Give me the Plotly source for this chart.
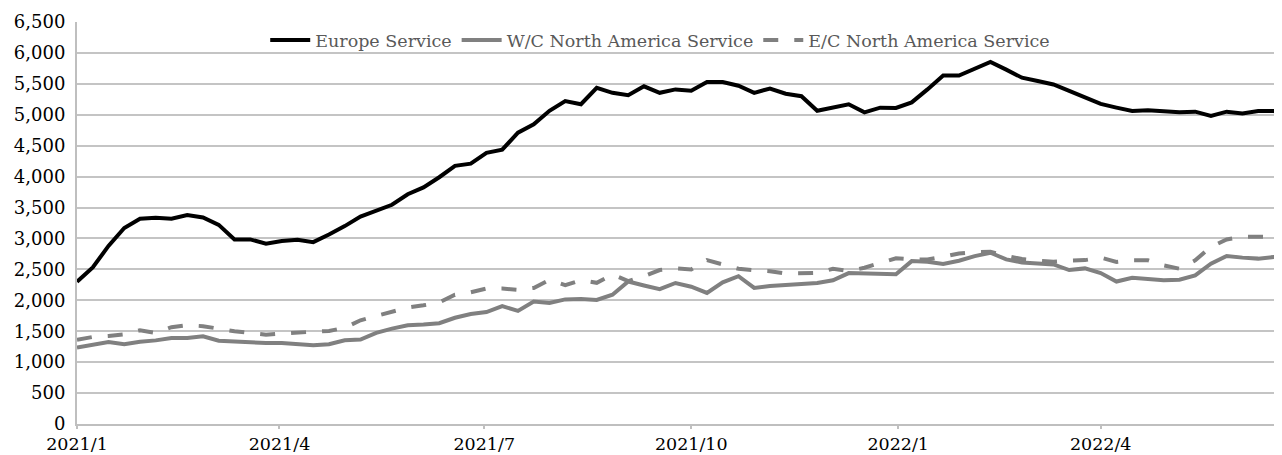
import pandas as pd
import plotly.graph_objects as go

start_date = "2021-01-01"

europe = [2300, 2530, 2880, 3170, 3320, 3335, 3320, 3380, 3340, 3220,
          2985, 2985, 2915, 2960, 2980, 2940, 3065, 3200, 3355, 3450,
          3545, 3715, 3825, 3990, 4175, 4210, 4385, 4435, 4710, 4845,
          5065, 5220, 5170, 5435, 5355, 5315, 5460, 5355, 5410, 5390,
          5530, 5530, 5470, 5355, 5425, 5340, 5300, 5065, 5115, 5170,
          5040, 5115, 5110, 5200, 5410, 5635, 5635, 5740, 5855, 5730,
          5600, 5545, 5490, 5385, 5280, 5175, 5115, 5060, 5075, 5065,
          5040, 5050, 4980, 5050, 5020, 5060, 5060, 4990]

wc_na = [1236, 1280, 1324, 1291, 1330, 1352, 1390, 1390, 1418, 1346,
         1335, 1308, 1308, 1310, 1290, 1274, 1290, 1355, 1366, 1473,
         1543, 1597, 1610, 1630, 1718, 1778, 1810, 1905, 1828, 1980,
         1957, 2015, 2020, 2005, 2090, 2305, 2240, 2180, 2280, 2220,
         2120, 2290, 2390, 2200, 2230, 2240, 2265, 2280, 2325, 2440,
         2430, 2419, 2420, 2634, 2624, 2586, 2640, 2715, 2769, 2661,
         2613, 2597, 2581, 2489, 2516, 2440, 2304, 2364, 2337, 2326,
         2332, 2402, 2592, 2717, 2690, 2674, 2701, 2663]

ec_na = [1363, 1407, 1423, 1450, 1516, 1473, 1566, 1599, 1582, 1538,
         1500, 1473, 1445, 1465, 1473, 1489, 1505, 1554, 1677, 1747,
         1822, 1882, 1919, 1965, 2090, 2130, 2190, 2190, 2170, 2200,
         2330, 2245, 2326, 2283, 2418, 2310, 2391, 2489, 2516, 2500,
         2650, 2580, 2510, 2486, 2470, 2432, 2432, 2443, 2510, 2473,
         2527, 2610, 2680, 2661, 2661, 2704, 2758, 2780, 2785, 2720,
         2667, 2640, 2624, 2640, 2650, 2690, 2620, 2647, 2647, 2565,
         2511, 2647, 2864, 2984, 3027, 3027, 3027, 2946]

series_names = ["Europe Service", "W/C North America Service", "E/C North America Service"]
tick_dates = ["2021-01-01", "2021-04-01", "2021-07-01", "2021-10-01", "2022-01-01", "2022-04-01"]
tick_labels = ["2021/1", "2021/4", "2021/7", "2021/10", "2022/1", "2022/4"]

dates = pd.date_range(start_date, periods=len(europe), freq="7D")

FONT = "DejaVu Serif"
fig = go.Figure()
fig.add_trace(go.Scatter(x=dates, y=europe, mode="lines", name=series_names[0],
                         line=dict(color="#000000", width=4)))
fig.add_trace(go.Scatter(x=dates, y=wc_na, mode="lines", name=series_names[1],
                         line=dict(color="#808080", width=4)))
fig.add_trace(go.Scatter(x=dates, y=ec_na, mode="lines", name=series_names[2],
                         line=dict(color="#808080", width=4, dash="15px,16px")))

# page body has an 8px default margin, so the figure is offset by 8px
fig.update_layout(
    width=1274, height=447,
    margin=dict(l=69, r=0, t=14, b=31, autoexpand=False),
    paper_bgcolor="white", plot_bgcolor="white",
    font=dict(family=FONT, size=18, color="#000000"),
    showlegend=True,
    legend=dict(orientation="h", x=0.484, xanchor="center", y=1.0, yanchor="top",
                font=dict(family=FONT, size=17.5, color="#595959"),
                bgcolor="rgba(0,0,0,0)", itemwidth=40, tracegroupgap=0),
)
fig.update_xaxes(
    type="date",
    range=["2021-01-01", "2022-06-20 14:00"],
    tickvals=tick_dates, ticktext=tick_labels,
    ticks="outside", ticklen=3, tickwidth=1.5, tickcolor="#bfbfbf",
    showline=True, linecolor="#bfbfbf", linewidth=2,
    showgrid=False, zeroline=False, automargin=False,
    tickfont=dict(family=FONT, size=17.5, color="#000000"),
)
fig.update_yaxes(
    range=[0, 6500], dtick=500, tick0=0, tickformat=",",
    showgrid=True, gridcolor="#c4c4c4", gridwidth=1.5,
    showline=True, linecolor="#bfbfbf", linewidth=2,
    zeroline=False, ticks="", ticklabelstandoff=6, automargin=False,
    tickfont=dict(family=FONT, size=18, color="#000000"),
)

fig.write_html("out.html")
